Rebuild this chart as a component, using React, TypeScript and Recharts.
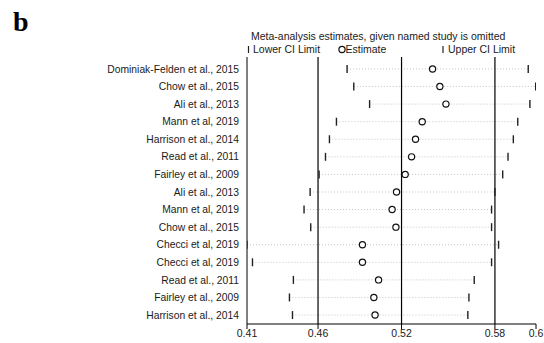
import { ScatterChart, Scatter, XAxis, YAxis, ReferenceLine } from "recharts"

// studies omitted, top to bottom
const studies = [
  "Dominiak-Felden et al., 2015",
  "Chow et al., 2015",
  "Ali et al., 2013",
  "Mann et al, 2019",
  "Harrison et al., 2014",
  "Read et al., 2011",
  "Fairley et al., 2009",
  "Ali et al., 2013",
  "Mann et al, 2019",
  "Chow et al., 2015",
  "Checci et al, 2019",
  "Checci et al, 2019",
  "Read et al., 2011",
  "Fairley et al., 2009",
  "Harrison et al., 2014",
]

const lowerCI = [
  0.4758, 0.4802, 0.4906, 0.4688, 0.4642, 0.4616, 0.4574, 0.4515, 0.4475, 0.4519, 0.41, 0.4136, 0.4405,
  0.4379, 0.4399,
]
const estimate = [
  0.532, 0.5368, 0.5408, 0.5252, 0.5208, 0.5182, 0.514, 0.5083, 0.5054, 0.5079, 0.4859, 0.4859, 0.4965,
  0.4934, 0.4942,
]
const upperCI = [
  0.5949, 0.5998, 0.596, 0.588, 0.5851, 0.5816, 0.5781, 0.573, 0.5708, 0.5708, 0.5754, 0.5708, 0.5594,
  0.5559, 0.5552,
]

// axis ticks sit where the original plot put them; labels are as printed
const xTicks = [0.41, 0.4567, 0.5116, 0.573, 0.6]
const xTickLabels = ["0.41", "0.46", "0.52", "0.58", "0.6"]
const refLines = [0.4567, 0.5116, 0.573]

const FONT = "'Liberation Sans', Arial, sans-serif"
const TEXT = "#1a1a1a"

const rows = studies.map((_, i) => i)
const lowerPts = rows.map((i) => ({ x: lowerCI[i], y: i }))
const estPts = rows.map((i) => ({ x: estimate[i], y: i }))
const upperPts = rows.map((i) => ({ x: upperCI[i], y: i }))

const CITick = (props: any) => {
  const { cx, cy } = props
  if (cx == null || cy == null) return null
  return <line x1={cx} x2={cx} y1={cy - 4} y2={cy + 4} stroke="#222" strokeWidth={1.4} />
}

const EstDot = (props: any) => {
  const { cx, cy } = props
  if (cx == null || cy == null) return null
  return <circle cx={cx} cy={cy} r={3.1} fill="#fff" stroke="#111" strokeWidth={1.2} />
}

export default function App() {
  return (
    <div style={{ position: "absolute", left: 0, top: 0, width: 544, height: 343, background: "#fff" }}>
      <ScatterChart width={544} height={343} margin={{ top: 57, right: 8, bottom: 0, left: 0 }}>
        <XAxis
          type="number"
          dataKey="x"
          domain={[0.41, 0.6]}
          ticks={xTicks}
          interval={0}
          tickFormatter={(v: number) => xTickLabels[xTicks.indexOf(v)] ?? ""}
          height={19}
          stroke="#000"
          tickSize={5}
          tickMargin={1}
          tick={{ fill: TEXT, fontSize: 10.5, fontFamily: FONT }}
          allowDataOverflow
        />
        <YAxis
          type="number"
          dataKey="y"
          domain={[-0.68, 14.51]}
          reversed
          ticks={rows}
          interval={0}
          tickFormatter={(v: number) => studies[v] ?? ""}
          width={247}
          stroke="#000"
          tickLine={false}
          tickSize={0}
          tickMargin={8}
          tick={{ fill: TEXT, fontSize: 10.3, fontFamily: FONT }}
          allowDataOverflow
        />
        {rows.map((i) => (
          <ReferenceLine
            key={"seg" + i}
            segment={[
              { x: lowerCI[i], y: i },
              { x: upperCI[i], y: i },
            ]}
            stroke="#c4c4c4"
            strokeDasharray="1 2"
            strokeWidth={1}
          />
        ))}
        {refLines.map((v) => (
          <ReferenceLine key={"ref" + v} x={v} stroke="#000" strokeWidth={1.2} />
        ))}
        <Scatter data={lowerPts} shape={CITick} isAnimationActive={false} />
        <Scatter data={upperPts} shape={CITick} isAnimationActive={false} />
        <Scatter data={estPts} shape={EstDot} isAnimationActive={false} />
      </ScatterChart>
      <svg
        width={544}
        height={343}
        style={{ position: "absolute", left: 0, top: 0, pointerEvents: "none" }}
      >
        <text x={13} y={30.5} fontFamily="'Liberation Serif', 'Times New Roman', serif" fontWeight="bold" fontSize={28} fill="#000">
          b
        </text>
        <text x={251} y={39.5} fontFamily={FONT} fontSize={10.5} fill={TEXT}>
          Meta-analysis estimates, given named study is omitted
        </text>
        <line x1={248.5} x2={248.5} y1={46} y2={53} stroke="#222" strokeWidth={1.2} />
        <text x={253} y={53} fontFamily={FONT} fontSize={10.5} fill={TEXT}>
          Lower CI Limit
        </text>
        <circle cx={342} cy={49.5} r={3.1} fill="#fff" stroke="#111" strokeWidth={1.2} />
        <text x={345.5} y={53} fontFamily={FONT} fontSize={10.5} fill={TEXT}>
          Estimate
        </text>
        <line x1={443} x2={443} y1={46} y2={53} stroke="#222" strokeWidth={1.2} />
        <text x={448} y={53} fontFamily={FONT} fontSize={10.5} fill={TEXT}>
          Upper CI Limit
        </text>
      </svg>
    </div>
  )
}
